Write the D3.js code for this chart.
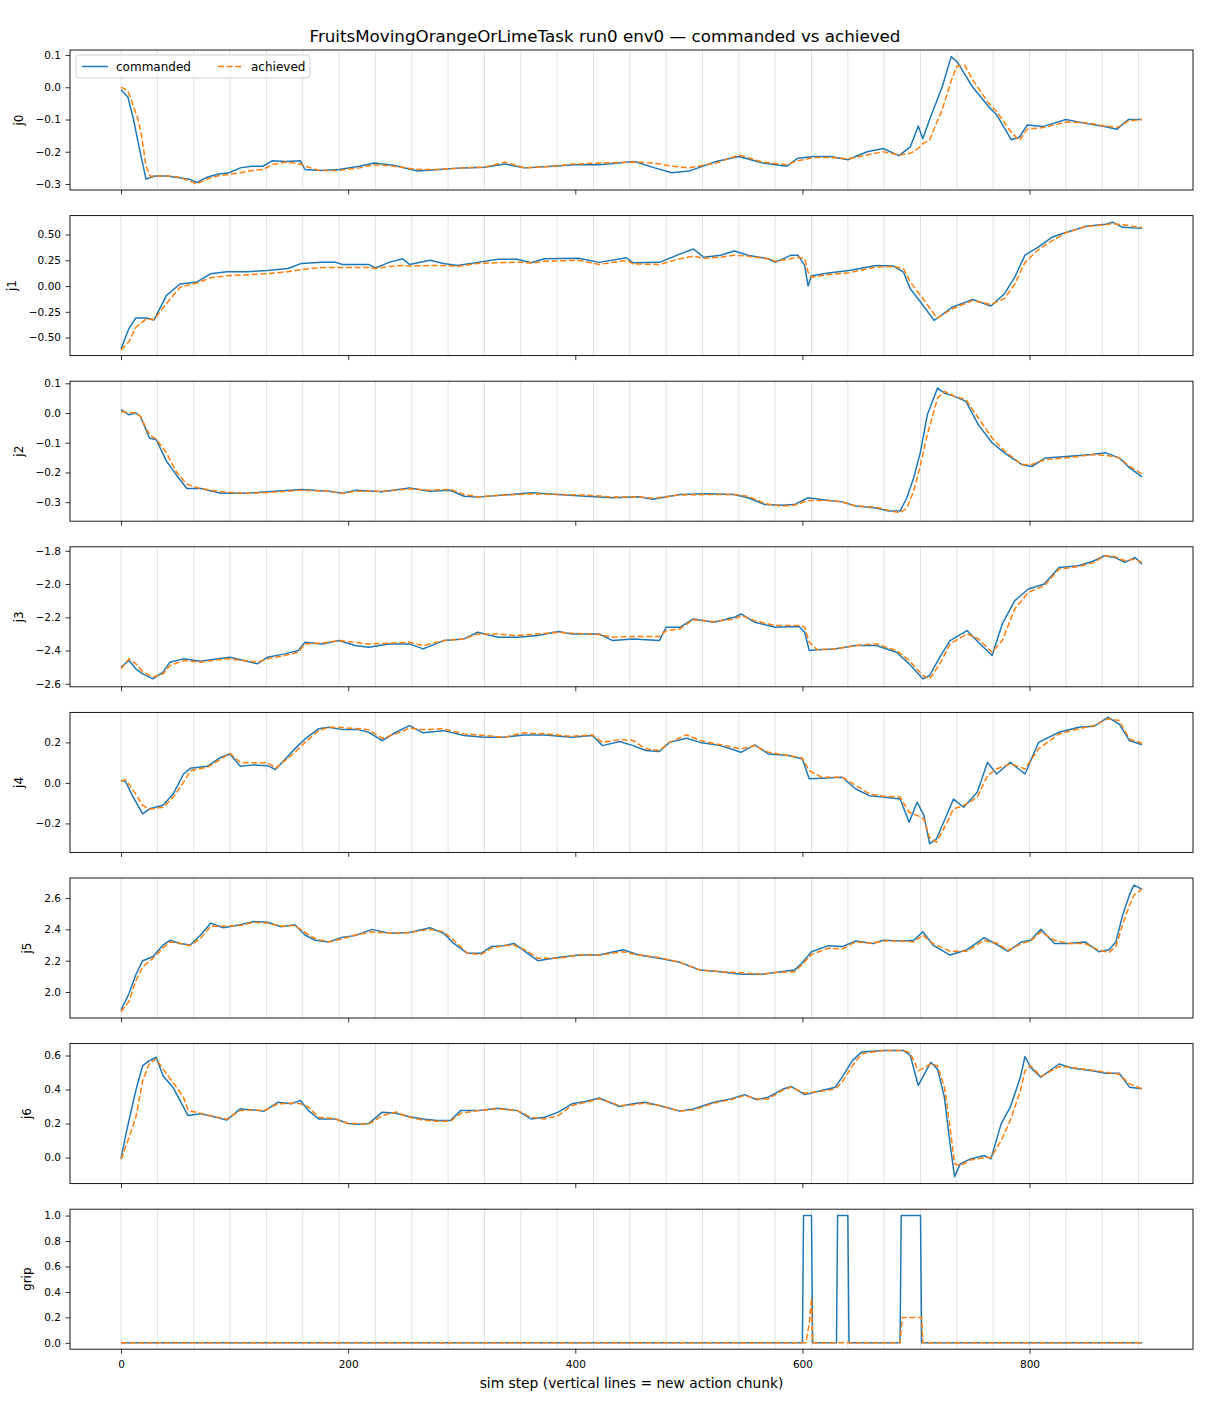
<!DOCTYPE html>
<html lang="en">
<head>
<meta charset="UTF-8">
<title>commanded vs achieved</title>
<script src="https://d3js.org/d3.v7.min.js"></script>
<style>
    body { margin: 0; background: #fff; }
    text { font-family: "DejaVu Sans", sans-serif; fill: #000; }
</style>
</head>
<body>
<script>
// each row: [sim step, commanded, achieved]
const j0Data = [[0,-0.008,0.0],[6,-0.03,-0.01],[11,-0.1,-0.06],[15,-0.17,-0.1],[18,-0.22,-0.15],[22,-0.285,-0.245],[26,-0.28,-0.277],[30,-0.275,-0.275],[40,-0.275,-0.275],[50,-0.28,-0.278],[60,-0.285,-0.29],[67,-0.295,-0.3],[75,-0.28,-0.285],[85,-0.27,-0.275],[95,-0.265,-0.27],[105,-0.25,-0.265],[115,-0.245,-0.258],[125,-0.245,-0.255],[133,-0.228,-0.24],[145,-0.23,-0.232],[158,-0.228,-0.238],[162,-0.255,-0.245],[175,-0.258,-0.258],[192,-0.255,-0.258],[210,-0.245,-0.25],[223,-0.235,-0.24],[240,-0.242,-0.245],[261,-0.26,-0.255],[280,-0.255,-0.255],[300,-0.25,-0.25],[320,-0.248,-0.248],[338,-0.238,-0.232],[355,-0.25,-0.25],[380,-0.245,-0.245],[400,-0.24,-0.238],[421,-0.24,-0.235],[452,-0.23,-0.232],[470,-0.25,-0.235],[485,-0.265,-0.245],[500,-0.26,-0.25],[524,-0.23,-0.235],[544,-0.215,-0.21],[565,-0.235,-0.232],[586,-0.245,-0.24],[596,-0.22,-0.228],[610,-0.215,-0.218],[625,-0.215,-0.218],[640,-0.225,-0.222],[657,-0.2,-0.21],[671,-0.19,-0.2],[685,-0.212,-0.21],[695,-0.185,-0.205],[702,-0.12,-0.19],[706,-0.16,-0.175],[712,-0.1,-0.163],[723,0.0,-0.07],[731,0.095,0.02],[736,0.08,0.065],[743,0.04,0.068],[750,0.0,0.023],[764,-0.06,-0.05],[771,-0.085,-0.075],[784,-0.163,-0.14],[791,-0.155,-0.165],[798,-0.117,-0.13],[812,-0.122,-0.125],[832,-0.1,-0.108],[849,-0.112,-0.11],[866,-0.122,-0.12],[877,-0.13,-0.125],[887,-0.1,-0.105],[899,-0.1,-0.1]];

const j1Data = [[0,-0.608,-0.62],[7,-0.41,-0.54],[13,-0.31,-0.4],[22,-0.31,-0.32],[29,-0.33,-0.325],[40,-0.09,-0.17],[52,0.02,-0.01],[67,0.04,0.03],[79,0.12,0.08],[93,0.14,0.10],[111,0.14,0.11],[129,0.15,0.12],[147,0.17,0.14],[159,0.22,0.16],[177,0.23,0.18],[189,0.23,0.18],[195,0.21,0.18],[218,0.21,0.18],[224,0.175,0.17],[236,0.23,0.19],[248,0.265,0.2],[254,0.21,0.195],[272,0.25,0.2],[284,0.22,0.2],[296,0.2,0.19],[314,0.23,0.22],[332,0.26,0.226],[349,0.26,0.233],[361,0.226,0.223],[373,0.265,0.24],[403,0.27,0.25],[421,0.23,0.21],[445,0.275,0.25],[451,0.226,0.215],[474,0.23,0.21],[492,0.31,0.265],[504,0.36,0.29],[513,0.28,0.27],[528,0.3,0.28],[540,0.34,0.3],[552,0.3,0.29],[570,0.265,0.265],[576,0.23,0.24],[590,0.3,0.265],[596,0.3,0.28],[602,0.2,0.265],[605,0.0,0.136],[608,0.1,0.087],[623,0.126,0.11],[641,0.15,0.13],[665,0.2,0.185],[680,0.194,0.19],[689,0.136,0.17],[695,-0.026,0.04],[704,-0.155,-0.09],[716,-0.333,-0.27],[719,-0.31,-0.31],[732,-0.204,-0.22],[750,-0.13,-0.14],[766,-0.194,-0.18],[778,-0.074,-0.12],[787,0.087,0.02],[796,0.3,0.23],[808,0.38,0.356],[820,0.476,0.44],[832,0.52,0.517],[850,0.58,0.58],[867,0.6,0.595],[873,0.62,0.607],[882,0.57,0.595],[899,0.56,0.57]];

const j2Data = [[0,0.011,0.005],[7,-0.006,0.002],[13,0.0,0.0],[17,-0.011,-0.011],[25,-0.084,-0.073],[31,-0.09,-0.088],[40,-0.162,-0.134],[49,-0.21,-0.2],[58,-0.254,-0.24],[70,-0.254,-0.254],[88,-0.27,-0.265],[111,-0.27,-0.271],[135,-0.263,-0.266],[159,-0.257,-0.26],[183,-0.263,-0.263],[195,-0.27,-0.271],[207,-0.26,-0.263],[230,-0.265,-0.263],[254,-0.252,-0.255],[272,-0.263,-0.26],[290,-0.26,-0.257],[302,-0.28,-0.274],[314,-0.283,-0.282],[337,-0.276,-0.276],[361,-0.268,-0.272],[385,-0.274,-0.274],[409,-0.28,-0.276],[433,-0.285,-0.283],[456,-0.282,-0.282],[468,-0.29,-0.287],[492,-0.274,-0.276],[516,-0.272,-0.274],[540,-0.274,-0.274],[552,-0.285,-0.28],[567,-0.308,-0.305],[582,-0.31,-0.313],[593,-0.308,-0.31],[605,-0.285,-0.294],[623,-0.294,-0.294],[635,-0.299,-0.299],[647,-0.313,-0.313],[665,-0.32,-0.317],[676,-0.33,-0.328],[686,-0.33,-0.336],[692,-0.285,-0.32],[698,-0.218,-0.263],[704,-0.13,-0.173],[710,-0.006,-0.073],[719,0.084,0.05],[725,0.067,0.073],[734,0.056,0.056],[744,0.039,0.045],[755,-0.04,-0.017],[767,-0.1,-0.084],[778,-0.134,-0.128],[793,-0.173,-0.173],[802,-0.18,-0.173],[814,-0.151,-0.157],[838,-0.145,-0.149],[855,-0.14,-0.14],[867,-0.134,-0.142],[879,-0.151,-0.151],[888,-0.184,-0.179],[899,-0.215,-0.205]];

const j3Data = [[0,-2.5,-2.51],[7,-2.46,-2.45],[13,-2.51,-2.48],[19,-2.54,-2.525],[28,-2.57,-2.56],[37,-2.53,-2.54],[43,-2.47,-2.49],[55,-2.45,-2.46],[70,-2.465,-2.47],[85,-2.45,-2.456],[96,-2.44,-2.45],[108,-2.46,-2.46],[120,-2.48,-2.47],[129,-2.44,-2.45],[144,-2.42,-2.43],[156,-2.4,-2.41],[162,-2.35,-2.36],[177,-2.36,-2.355],[192,-2.34,-2.34],[206,-2.37,-2.35],[218,-2.38,-2.36],[236,-2.36,-2.356],[254,-2.36,-2.35],[266,-2.39,-2.37],[284,-2.34,-2.34],[302,-2.33,-2.33],[314,-2.29,-2.30],[332,-2.32,-2.30],[349,-2.32,-2.31],[367,-2.31,-2.30],[385,-2.285,-2.29],[397,-2.3,-2.296],[421,-2.3,-2.304],[433,-2.34,-2.32],[451,-2.33,-2.316],[474,-2.34,-2.316],[480,-2.26,-2.28],[492,-2.26,-2.27],[504,-2.21,-2.215],[522,-2.23,-2.226],[540,-2.2,-2.21],[546,-2.18,-2.19],[558,-2.23,-2.22],[576,-2.26,-2.25],[597,-2.255,-2.25],[602,-2.29,-2.258],[606,-2.4,-2.35],[613,-2.395,-2.395],[628,-2.39,-2.39],[647,-2.37,-2.37],[665,-2.37,-2.36],[683,-2.41,-2.4],[694,-2.48,-2.46],[706,-2.57,-2.55],[712,-2.55,-2.57],[721,-2.44,-2.48],[730,-2.34,-2.36],[745,-2.28,-2.3],[755,-2.35,-2.33],[767,-2.43,-2.41],[776,-2.24,-2.34],[787,-2.1,-2.15],[799,-2.03,-2.05],[813,-2.0,-2.01],[826,-1.9,-1.91],[843,-1.89,-1.895],[857,-1.86,-1.87],[866,-1.83,-1.83],[875,-1.84,-1.835],[884,-1.87,-1.86],[893,-1.84,-1.85],[899,-1.88,-1.87]];

const j4Data = [[0,0.012,0.007],[4,0.007,0.016],[10,-0.063,-0.03],[19,-0.153,-0.11],[25,-0.128,-0.13],[37,-0.11,-0.12],[46,-0.054,-0.07],[55,0.044,0.003],[61,0.072,0.06],[76,0.082,0.077],[88,0.127,0.118],[96,0.143,0.146],[105,0.082,0.1],[117,0.089,0.099],[129,0.085,0.1],[136,0.066,0.072],[153,0.168,0.15],[162,0.217,0.2],[174,0.267,0.258],[183,0.275,0.275],[195,0.263,0.273],[209,0.263,0.267],[218,0.25,0.263],[230,0.209,0.22],[242,0.25,0.242],[254,0.283,0.27],[266,0.247,0.263],[284,0.258,0.267],[302,0.234,0.242],[320,0.225,0.234],[337,0.225,0.225],[355,0.237,0.247],[373,0.237,0.242],[397,0.225,0.23],[415,0.234,0.237],[424,0.184,0.2],[439,0.204,0.214],[451,0.184,0.209],[462,0.16,0.168],[474,0.155,0.16],[483,0.2,0.2],[498,0.22,0.237],[510,0.2,0.209],[528,0.184,0.188],[546,0.151,0.168],[558,0.188,0.184],[570,0.143,0.151],[588,0.135,0.135],[600,0.118,0.122],[606,0.02,0.06],[617,0.023,0.028],[635,0.028,0.028],[647,-0.03,-0.013],[659,-0.063,-0.054],[671,-0.07,-0.066],[686,-0.079,-0.07],[694,-0.194,-0.145],[701,-0.095,-0.16],[707,-0.16,-0.178],[712,-0.3,-0.27],[718,-0.277,-0.293],[727,-0.16,-0.2],[733,-0.08,-0.128],[742,-0.12,-0.112],[754,-0.046,-0.07],[763,0.102,0.036],[771,0.044,0.069],[783,0.102,0.094],[796,0.044,0.069],[808,0.2,0.168],[826,0.25,0.242],[843,0.275,0.267],[857,0.28,0.283],[869,0.324,0.316],[879,0.29,0.308],[888,0.209,0.217],[899,0.188,0.196]];

const j5Data = [[0,1.885,1.874],[7,1.99,1.94],[13,2.11,2.07],[19,2.2,2.16],[28,2.225,2.215],[37,2.3,2.28],[43,2.33,2.32],[52,2.31,2.31],[61,2.3,2.296],[70,2.364,2.343],[79,2.44,2.42],[90,2.41,2.42],[105,2.43,2.425],[117,2.45,2.445],[129,2.445,2.44],[141,2.417,2.42],[153,2.43,2.425],[162,2.364,2.38],[171,2.33,2.34],[183,2.32,2.32],[195,2.35,2.34],[206,2.36,2.364],[221,2.4,2.385],[236,2.375,2.375],[254,2.38,2.38],[272,2.41,2.4],[284,2.375,2.385],[293,2.31,2.33],[305,2.247,2.247],[317,2.247,2.24],[326,2.29,2.28],[337,2.296,2.296],[346,2.31,2.3],[358,2.247,2.26],[367,2.2,2.215],[385,2.22,2.215],[403,2.236,2.236],[421,2.236,2.236],[442,2.27,2.257],[456,2.236,2.236],[474,2.215,2.22],[492,2.19,2.19],[510,2.14,2.14],[528,2.13,2.13],[546,2.113,2.123],[564,2.113,2.113],[576,2.125,2.125],[593,2.14,2.13],[599,2.18,2.17],[608,2.257,2.24],[623,2.296,2.28],[635,2.29,2.275],[647,2.326,2.32],[662,2.31,2.31],[671,2.33,2.326],[689,2.326,2.326],[698,2.33,2.32],[706,2.385,2.364],[715,2.3,2.31],[730,2.236,2.26],[745,2.27,2.26],[760,2.347,2.33],[772,2.3,2.31],[781,2.26,2.265],[793,2.32,2.31],[801,2.33,2.326],[810,2.4,2.385],[822,2.31,2.33],[834,2.31,2.31],[849,2.32,2.31],[861,2.257,2.267],[870,2.27,2.253],[876,2.32,2.29],[882,2.49,2.43],[888,2.62,2.555],[892,2.683,2.62],[899,2.657,2.657]];

const j6Data = [[0,-0.008,-0.01],[5,0.16,0.08],[13,0.394,0.237],[19,0.54,0.45],[25,0.57,0.555],[31,0.59,0.58],[37,0.48,0.52],[46,0.41,0.44],[55,0.296,0.355],[59,0.247,0.277],[70,0.257,0.26],[82,0.24,0.24],[93,0.22,0.226],[105,0.286,0.277],[117,0.28,0.28],[126,0.273,0.276],[138,0.325,0.316],[150,0.316,0.32],[158,0.335,0.316],[165,0.276,0.296],[174,0.227,0.237],[189,0.227,0.227],[200,0.2,0.2],[209,0.196,0.2],[218,0.2,0.196],[230,0.267,0.247],[242,0.26,0.267],[254,0.24,0.237],[266,0.227,0.22],[278,0.218,0.214],[290,0.218,0.214],[299,0.276,0.26],[314,0.276,0.276],[332,0.29,0.286],[349,0.276,0.276],[361,0.227,0.237],[373,0.237,0.227],[385,0.267,0.247],[397,0.316,0.306],[409,0.33,0.325],[421,0.35,0.345],[439,0.3,0.306],[451,0.316,0.31],[461,0.325,0.32],[474,0.306,0.306],[492,0.273,0.273],[504,0.286,0.28],[522,0.325,0.32],[537,0.345,0.34],[549,0.37,0.365],[560,0.34,0.345],[570,0.355,0.345],[582,0.4,0.394],[590,0.418,0.414],[602,0.37,0.378],[617,0.394,0.39],[629,0.414,0.404],[635,0.473,0.443],[644,0.57,0.54],[652,0.62,0.61],[671,0.63,0.63],[689,0.63,0.63],[695,0.6,0.614],[702,0.424,0.51],[713,0.56,0.55],[719,0.52,0.54],[725,0.355,0.414],[730,0.08,0.18],[734,-0.112,-0.037],[739,-0.037,-0.047],[748,-0.008,-0.014],[760,0.012,0.0],[766,-0.008,0.0],[775,0.198,0.1],[783,0.296,0.218],[792,0.473,0.394],[796,0.594,0.51],[801,0.53,0.54],[810,0.473,0.477],[826,0.55,0.535],[837,0.527,0.53],[855,0.51,0.514],[867,0.496,0.502],[879,0.496,0.49],[888,0.414,0.433],[899,0.404,0.404]];

// gripper: commanded is 0/1, achieved lags and only partly closes
const gripCmd = [[0,0],[600,0],[601,1],[608,1],[609,0],[630,0],[631,1],[640,1],[641,0],[686,0],[687,1],[704,1],[705,0],[899,0]];
const gripAch = [[0,0],[603,0],[606,0.15],[608,0.35],[609,0],[686,0],[688,0.2],[705,0.2],[706,0],[899,0]];

const chunkStarts = d3.range(0, 900, 32);   // new action chunk every 32 steps
const xTicks = [0, 200, 400, 600, 800];

const panelNames = ["j0", "j1", "j2", "j3", "j4", "j5", "j6", "grip"];
const yDomains = [[-0.3186, 0.1155], [-0.675, 0.684], [-0.364, 0.107], [-2.618, -1.776],
                  [-0.343, 0.348], [1.834, 2.728], [-0.153, 0.67], [-0.05, 1.05]];
const yTicks = [[-0.3, -0.2, -0.1, 0.0, 0.1], [-0.5, -0.25, 0, 0.25, 0.5], [-0.3, -0.2, -0.1, 0, 0.1],
                [-2.6, -2.4, -2.2, -2.0, -1.8], [-0.2, 0, 0.2], [2.0, 2.2, 2.4, 2.6],
                [0, 0.2, 0.4, 0.6], [0, 0.2, 0.4, 0.6, 0.8, 1.0]];
const yFormats = [".1f", ".2f", ".1f", ".1f", ".1f", ".1f", ".1f", ".1f"];

const jointData = [j0Data, j1Data, j2Data, j3Data, j4Data, j5Data, j6Data];

const width = 1210, height = 1408;
const left = 70, right = 1193;
const panelTop = 50, panelH = 140, panelStep = 165.6;
const blue = "#1f77b4", orange = "#ff7f0e";

const svg = d3.select("body").append("svg")
    .attr("width", width)
    .attr("height", height);

svg.append("rect").attr("width", width).attr("height", height).attr("fill", "#fff");

const x = d3.scaleLinear().domain([-44.95, 943.95]).range([left, right]);

svg.append("text")
    .attr("x", 605).attr("y", 42)
    .attr("text-anchor", "middle")
    .style("font-size", "16.7px")
    .text("FruitsMovingOrangeOrLimeTask run0 env0 \u2014 commanded vs achieved");

panelNames.forEach((name, i) => {
    const top = panelTop + i * panelStep;
    const y = d3.scaleLinear().domain(yDomains[i]).range([top + panelH, top]);
    const g = svg.append("g");

    g.append("clipPath").attr("id", "clip" + i)
        .append("rect").attr("x", left).attr("y", top).attr("width", right - left).attr("height", panelH);

    // chunk boundaries
    g.append("g").selectAll("line")
        .data(chunkStarts)
        .enter().append("line")
        .attr("x1", d => x(d)).attr("x2", d => x(d))
        .attr("y1", top).attr("y2", top + panelH)
        .attr("stroke", "#808080")
        .attr("stroke-opacity", 0.3)
        .attr("stroke-width", 0.8);

    let cmd, ach;
    if (i < 7) {
        cmd = jointData[i].map(d => [d[0], d[1]]);
        ach = jointData[i].map(d => [d[0], d[2]]);
    } else {
        cmd = gripCmd;
        ach = gripAch;
    }
    const line = d3.line().x(d => x(d[0])).y(d => y(d[1]));

    const plot = g.append("g").attr("clip-path", "url(#clip" + i + ")");
    plot.append("path").datum(cmd)
        .attr("d", line)
        .attr("fill", "none")
        .attr("stroke", blue)
        .attr("stroke-width", 1.5)
        .attr("stroke-linejoin", "round");
    plot.append("path").datum(ach)
        .attr("d", line)
        .attr("fill", "none")
        .attr("stroke", orange)
        .attr("stroke-width", 1.5)
        .attr("stroke-dasharray", "6,2.6");

    // axes
    const yAxis = g.append("g")
        .attr("transform", `translate(${left},0)`)
        .call(d3.axisLeft(y).tickValues(yTicks[i]).tickFormat(d3.format(yFormats[i])).tickSize(4.5).tickPadding(4.5));
    yAxis.select(".domain").remove();
    yAxis.selectAll("text").style("font-size", "10.5px").attr("fill", "#000").style("font-family", "DejaVu Sans, sans-serif");
    yAxis.selectAll("line").attr("stroke", "#000").attr("stroke-width", 0.8);

    const xAxis = g.append("g")
        .attr("transform", `translate(0,${top + panelH})`)
        .call(d3.axisBottom(x).tickValues(xTicks).tickSize(4.5).tickPadding(7)
            .tickFormat(i === panelNames.length - 1 ? d3.format("d") : ""));
    xAxis.select(".domain").remove();
    xAxis.selectAll("text").style("font-size", "10.5px").attr("fill", "#000").style("font-family", "DejaVu Sans, sans-serif");
    xAxis.selectAll("line").attr("stroke", "#000").attr("stroke-width", 0.8);

    g.append("rect")
        .attr("x", left).attr("y", top)
        .attr("width", right - left).attr("height", panelH)
        .attr("fill", "none").attr("stroke", "#000").attr("stroke-width", 0.9);

    // y label sits left of the widest tick label
    let maxW = 0;
    yAxis.selectAll("text").each(function () { maxW = Math.max(maxW, this.getComputedTextLength()); });
    const lx = left - maxW - 22;
    g.append("text")
        .attr("transform", `translate(${lx},${top + panelH / 2}) rotate(-90)`)
        .attr("text-anchor", "middle")
        .style("font-size", "12px")
        .text(name);

    if (i === 0) {
        const lg = g.append("g").attr("transform", `translate(76,${top + 5})`);
        lg.append("rect")
            .attr("width", 234).attr("height", 23).attr("rx", 3)
            .attr("fill", "#fff").attr("fill-opacity", 0.8)
            .attr("stroke", "#ccc").attr("stroke-width", 0.9);
        lg.append("line").attr("x1", 6).attr("x2", 32).attr("y1", 11.5).attr("y2", 11.5)
            .attr("stroke", blue).attr("stroke-width", 1.5);
        lg.append("text").attr("x", 40).attr("y", 16).style("font-size", "12px").text("commanded");
        lg.append("line").attr("x1", 142).attr("x2", 168).attr("y1", 11.5).attr("y2", 11.5)
            .attr("stroke", orange).attr("stroke-width", 1.5).attr("stroke-dasharray", "6,2.6");
        lg.append("text").attr("x", 175).attr("y", 16).style("font-size", "12px").text("achieved");
    }
});

svg.append("text")
    .attr("x", (left + right) / 2).attr("y", 1388)
    .attr("text-anchor", "middle")
    .style("font-size", "13.8px")
    .text("sim step (vertical lines = new action chunk)");
</script>
</body>
</html>
